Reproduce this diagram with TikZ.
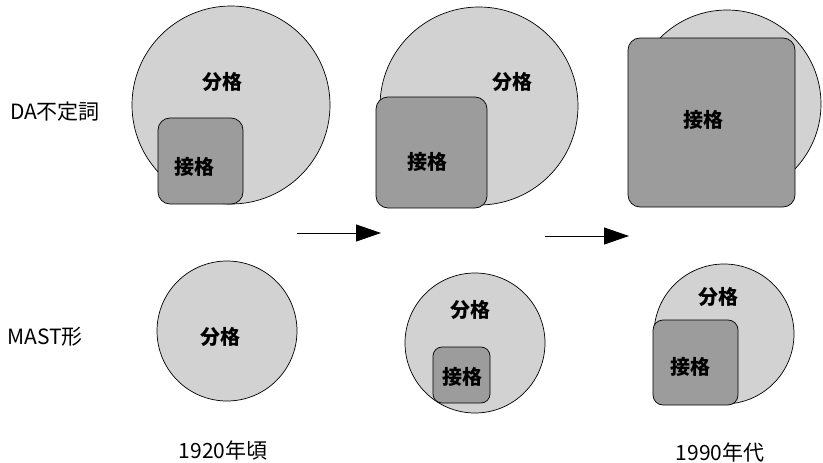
\documentclass[tikz,border=0pt]{standalone}
\usepackage{fontspec}
\setmainfont{Noto Sans CJK JP}
\usetikzlibrary{arrows.meta}
\definecolor{lightgr}{HTML}{D2D2D2}
\definecolor{darkgr}{HTML}{9C9C9C}
\tikzset{
  bubble/.style={draw=black, line width=0.7pt, fill=lightgr},
  box/.style={draw=black, line width=0.7pt, fill=darkgr, rounded corners=12pt},
  caselbl/.style={font=\fontsize{20}{20}\selectfont\bfseries, inner sep=0pt},
  rowlbl/.style={font=\fontsize{21}{21}\selectfont, inner sep=0pt},
  yearlbl/.style={font=\fontsize{21}{21}\selectfont, inner sep=0pt},
  flow/.style={line width=0.9pt, -{Triangle[length=25pt,width=17pt]}}
}
\begin{document}
\begin{tikzpicture}[x=1pt,y=-1pt]
\useasboundingbox (0,0) rectangle (823,463);
% row labels
\node[rowlbl] (da) at (55,112) {DA不定詞};
\node[rowlbl] (mast) at (45,337) {MAST形};
% top row, panel 1
\draw[bubble] (231,105) circle (99);
\draw[box] (158,118) rectangle (243,204);
\node[caselbl] (b1) at (222,82) {分格};
\node[caselbl] (s1) at (194,167) {接格};
% top row, panel 2
\draw[bubble] (479,106) circle (99);
\draw[box] (376,97) rectangle (487,208);
\node[caselbl] (b2) at (512,82) {分格};
\node[caselbl] (s2) at (427,162) {接格};
% top row, panel 3
\draw[bubble] (727,104) circle (94);
\draw[box] (628,38) rectangle (795,207);
\node[caselbl] (s3) at (703,120) {接格};
% arrows
\coordinate (a1s) at (297,233);
\coordinate (a1e) at (381,233);
\coordinate (a2s) at (545,236);
\coordinate (a2e) at (629,236);
\draw[flow] (a1s) -- (a1e);
\draw[flow] (a2s) -- (a2e);
% bottom row, panel 1
\draw[bubble] (227,331) circle (70);
\node[caselbl] (c1) at (220,337) {分格};
% bottom row, panel 2
\draw[bubble] (475,343) circle (70);
\draw[box, rounded corners=9pt] (433,347) rectangle (490,403);
\node[caselbl] (c2) at (470,310) {分格};
\node[caselbl] (t2) at (462,377) {接格};
% bottom row, panel 3
\draw[bubble] (724,334) circle (70);
\draw[box, rounded corners=10pt] (653,320) rectangle (738,405);
\node[caselbl] (c3) at (718,297) {分格};
\node[caselbl] (t3) at (690,367) {接格};
% years
\node[yearlbl] (y1) at (223,450) {1920年頃};
\node[yearlbl] (y2) at (720,452) {1990年代};
\end{tikzpicture}
\end{document}
